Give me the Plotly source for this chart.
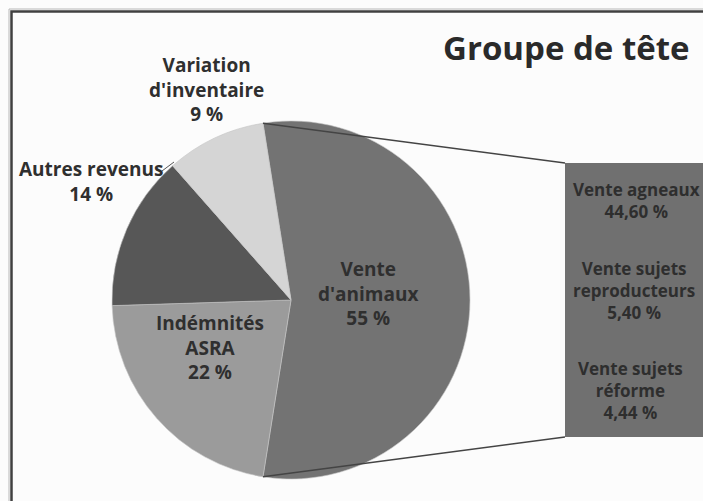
import plotly.graph_objects as go
import math

W, H = 703, 501

# pie data
pie_labels = ["Vente<br>d'animaux", "Indémnités<br>ASRA", "Autres revenus", "Variation<br>d'inventaire"]
pie_values = [55, 22, 14, 9]
pie_colors = ["#737373", "#9b9b9b", "#575757", "#d5d5d5"]

# bar of pie data (detail of "Vente d'animaux"), top to bottom
bar_labels = ["Vente agneaux", "Vente sujets<br>reproducteurs", "Vente sujets<br>réforme"]
bar_values = [44.60, 5.40, 4.44]
bar_color = "#707070"

title = "Groupe de tête"

# geometry in pixels
PIE_CX, PIE_CY, PIE_R = 291, 300, 179
ROT = -9
BAR_X0, BAR_Y0, BAR_Y1 = 565, 163, 437

def px(x, y):
    return x / W, 1 - y / H

FONT = "Open Sans"
TXT = "#2f2f2f"

fig = go.Figure()
fig.add_trace(go.Pie(
    labels=pie_labels, values=pie_values, sort=False, direction="clockwise",
    rotation=ROT, textinfo="none", showlegend=False,
    marker=dict(colors=pie_colors, line=dict(color="#c4c4c4", width=0.6)),
    domain=dict(x=[(PIE_CX - PIE_R) / W, (PIE_CX + PIE_R) / W],
                y=[1 - (PIE_CY + PIE_R) / H, 1 - (PIE_CY - PIE_R) / H]),
))

# stacked bar, bottom segment first
for lab, v in reversed(list(zip(bar_labels, bar_values))):
    fig.add_trace(go.Bar(x=[0], y=[v], width=1, name=lab.replace("<br>", " "),
                         marker=dict(color=bar_color, line=dict(width=0)),
                         showlegend=False, xaxis="x", yaxis="y"))

# connector lines from the "Vente d'animaux" slice edges to the bar
a0 = math.radians(ROT)
a1 = math.radians(ROT + 360 * pie_values[0] / sum(pie_values))
shapes = []
for a, by in [(a0, BAR_Y0), (a1, BAR_Y1)]:
    sx = PIE_CX + PIE_R * math.sin(a)
    sy = PIE_CY - PIE_R * math.cos(a)
    x0, y0 = px(sx, sy)
    x1, y1 = px(BAR_X0, by)
    shapes.append(dict(type="line", xref="paper", yref="paper", x0=x0, y0=y0, x1=x1, y1=y1,
                       line=dict(color="#444444", width=1.5)))

# leader line for "Autres revenus"
x0, y0 = px(162, 171)
x1, y1 = px(174, 162)
shapes.append(dict(type="line", xref="paper", yref="paper", x0=x0, y0=y0, x1=x1, y1=y1,
                   line=dict(color="#555555", width=1)))

# chart frame (right and bottom edges are cut off)
shapes.append(dict(type="rect", xref="paper", yref="paper", x0=9 / W, y0=-0.1, x1=1.1, y1=1 - 9 / H,
                   line=dict(color="#b8b8b8", width=1)))
shapes.append(dict(type="rect", xref="paper", yref="paper", x0=11.5 / W, y0=-0.1, x1=1.1, y1=1 - 11.5 / H,
                   line=dict(color="#404040", width=2.5)))

def note(text, x, y, size, color):
    ax, ay = px(x, y)
    return dict(text=text, x=ax, y=ay, xref="paper", yref="paper", showarrow=False,
                xanchor="center", yanchor="middle",
                font=dict(family=FONT, size=size, color=color))

annotations = [note("<b>" + title + "</b>", 566, 47, 33, "#2a2a2a")]

pie_pos = [(368, 293), (210, 347), (91, 181), (206, 89)]
for lab, v, (x, y) in zip(pie_labels, pie_values, pie_pos):
    annotations.append(note("<b>" + lab + "<br>" + f"{v} %" + "</b>", x, y, 19, TXT))

bar_pos = [(636, 200), (634, 290), (630, 390)]
for lab, v, (x, y) in zip(bar_labels, bar_values, bar_pos):
    pct = f"{v:.2f}".replace(".", ",") + " %"
    annotations.append(note("<b>" + lab + "<br>" + pct + "</b>", x, y, 17, "#2e2e2e"))

fig.update_layout(
    width=W, height=H, margin=dict(l=0, r=0, t=0, b=0),
    paper_bgcolor="#fcfcfc", plot_bgcolor="rgba(0,0,0,0)",
    barmode="stack", bargap=0,
    xaxis=dict(domain=[BAR_X0 / W, 1], range=[-0.5, 0.5], visible=False, fixedrange=True),
    yaxis=dict(domain=[1 - BAR_Y1 / H, 1 - BAR_Y0 / H], range=[0, sum(bar_values)],
               visible=False, fixedrange=True),
    shapes=shapes, annotations=annotations,
)

fig.write_html("out.html", config={"displayModeBar": False},
               post_script="document.body.style.margin='0';")
